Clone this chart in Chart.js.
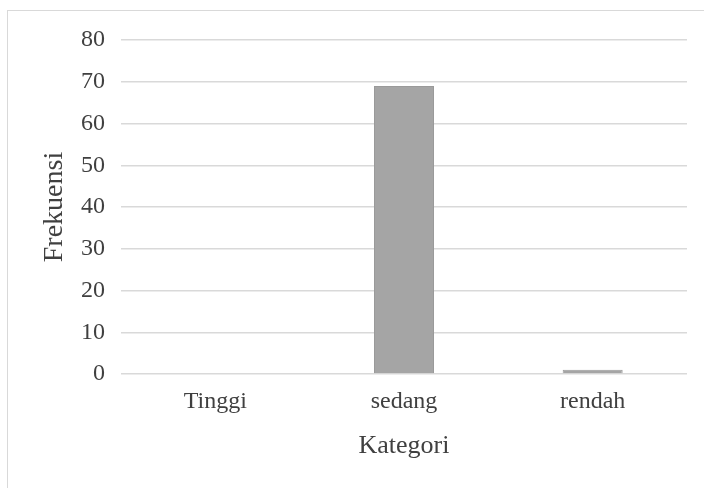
<!DOCTYPE html>
<html>
<head>
<meta charset="utf-8">
<script src="https://cdn.jsdelivr.net/npm/chart.js@4/dist/chart.umd.min.js"></script>
<style>
  html, body { margin: 0; padding: 0; background: #fff; overflow: hidden; }
  .frame { position: absolute; left: 7px; top: 10px; width: 720px; height: 500px; border: 1px solid #d9d9d9; }
  .wrap { position: absolute; left: 0; top: 0; width: 704px; height: 488px; }
</style>
</head>
<body>
<div class="frame"></div>
<div class="wrap"><canvas id="myChart" width="704" height="488"></canvas></div>
<script>
const categories = ["Tinggi", "sedang", "rendah"];
const frekuensi = [0, 69, 1];
const yTicks = [0, 10, 20, 30, 40, 50, 60, 70, 80];

const textColor = "#404040";
const serif = "'Liberation Serif', 'Times New Roman', serif";

new Chart(document.getElementById("myChart"), {
  type: "bar",
  data: {
    labels: categories,
    datasets: [
      {
        label: "Frekuensi",
        data: frekuensi,
        backgroundColor: "#a5a5a5",
        borderColor: "#9a9a9a",
        borderWidth: 1,
        categoryPercentage: 1,
        barPercentage: 0.318
      }
    ]
  },
  options: {
    responsive: false,
    animation: false,
    devicePixelRatio: 1,
    layout: { padding: { left: 0, right: 17, top: 40, bottom: 0 } },
    plugins: { legend: { display: false }, tooltip: { enabled: false } },
    scales: {
      x: {
        grid: { display: false, drawTicks: false },
        border: { display: false },
        ticks: { color: textColor, padding: 13, font: { family: serif, size: 24 } },
        title: {
          display: true,
          text: "Kategori",
          color: textColor,
          font: { family: serif, size: 26 },
          padding: { top: 0, bottom: 26 }
        },
        afterFit: (s) => { s.height = 114; }
      },
      y: {
        min: yTicks[0],
        max: yTicks[yTicks.length - 1],
        grid: { color: "#d9d9d9", lineWidth: 1.5, drawTicks: false },
        border: { display: false },
        afterBuildTicks: (s) => { s.ticks = yTicks.map(v => ({ value: v })); },
        ticks: { color: textColor, padding: 16, font: { family: serif, size: 24 } },
        title: {
          display: true,
          text: "Frekuensi",
          color: textColor,
          font: { family: serif, size: 28 },
          padding: { top: 38, bottom: 0 }
        },
        afterFit: (s) => { s.width = 121; }
      }
    }
  }
});
</script>
</body>
</html>
